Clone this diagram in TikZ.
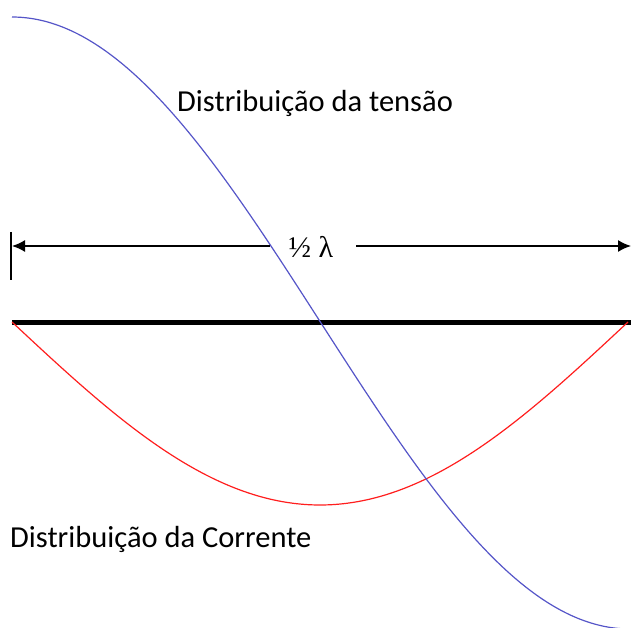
\documentclass[tikz,border=0pt]{standalone}
\usepackage{fontspec}
\setmainfont{Carlito}
\newfontfamily\serifsym{Liberation Serif}
\usetikzlibrary{arrows.meta}
\definecolor{voltblue}{RGB}{85,85,200}
\definecolor{currred}{RGB}{255,30,30}
\tikzset{
  lbl/.style={inner sep=0pt, font=\fontsize{30.5}{33}\selectfont},
  dimline/.style={line width=1.5pt, -{Latex[length=13pt,width=12pt]}},
}
\begin{document}
\begin{tikzpicture}[x=1pt,y=-1pt]
\useasboundingbox (0,0) rectangle (631,628);
\begin{scope}
\clip (0,0) rectangle (631,628);
% antenna (thick line)
\coordinate (aL) at (12,322);
\coordinate (aR) at (631,322);
\draw[line width=5pt] (aL) -- (aR);
% current distribution
\draw[currred, line width=1.2pt] plot[domain=12:628, samples=200] (\x, {322+183*sin((\x-12)/616*180)});
% voltage distribution
\draw[voltblue, line width=1.2pt] plot[domain=12:631, samples=200] (\x, {323-306*cos((\x-12)/618*180)});
\end{scope}
% dimension
\coordinate (tT) at (11,232);
\coordinate (tB) at (11,280);
\draw[line width=1.5pt] (tT) -- (tB);
\coordinate (dL) at (12,246);
\coordinate (dR) at (631,246);
\node[inner xsep=0pt, font=\serifsym\fontsize{30}{32}\selectfont] (half) at (311,247) {½ λ};
\coordinate (gL) at ([xshift=-19pt]half.west |- dL);
\coordinate (gR) at ([xshift=23pt]half.east |- dR);
\draw[dimline] (gL) -- (dL);
\draw[dimline] (gR) -- (dR);
% labels
\node[lbl, anchor=base west] (vlab) at (177,112) {Distribuição da tensão};
\node[lbl, anchor=base west] (clab) at (10,547) {Distribuição da Corrente};
\end{tikzpicture}
\end{document}
